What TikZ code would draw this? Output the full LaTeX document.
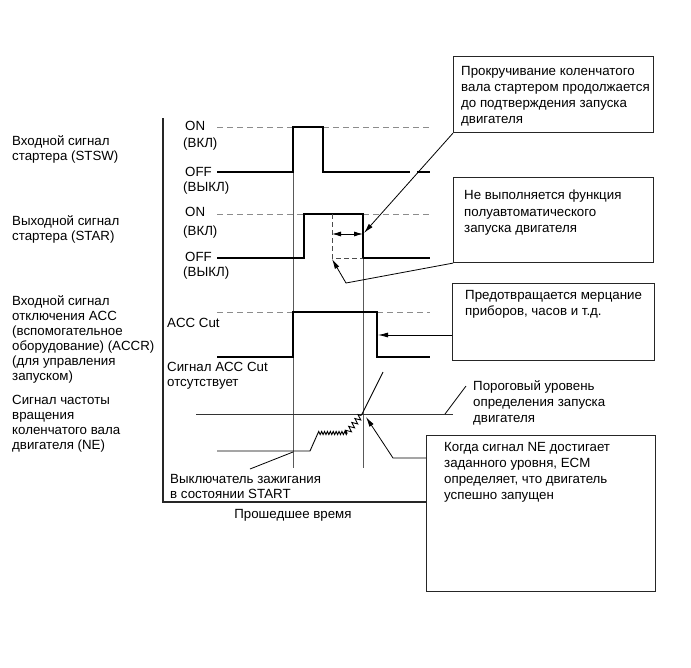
\documentclass[tikz,border=0pt]{standalone}
\usepackage{fontspec}
\setmainfont{Liberation Sans}
\usetikzlibrary{arrows.meta,decorations.pathmorphing}
\begin{document}
\begin{tikzpicture}[x=1pt,y=-1pt,
  sig/.style={line width=1.8pt, black},
  lvl/.style={line width=0.9pt, black!45, dash pattern=on 6pt off 4pt},
  aux/.style={line width=0.8pt, black!70, dash pattern=on 5pt off 3pt},
  vthin/.style={line width=0.6pt, black!65},
  axisln/.style={line width=1.2pt, black!85},
  lead/.style={line width=0.8pt, black},
  tip/.style={-{Latex[length=10pt,width=5pt]}},
  lbl/.style={inner sep=0pt, anchor=west, font=\fontsize{13.3}{15}\selectfont},
  mlbl/.style={inner sep=0pt, anchor=north west, align=left, font=\fontsize{13.3}{15}\selectfont},
  blbl/.style={inner sep=0pt, anchor=north west, align=left, font=\fontsize{13.3}{16.2}\selectfont},
  callout/.style={draw=black!85, line width=1.1pt, inner sep=0pt, anchor=north west},
]
\useasboundingbox (0,0) rectangle (691,667);

% ---- left labels
\node[mlbl] (lstsw) at (12,135) {Входной сигнал\\стартера (STSW)};
\node[mlbl] (lstar) at (12,215) {Выходной сигнал\\стартера (STAR)};
\node[mlbl] (laccr) at (12,295) {Входной сигнал\\отключения ACC\\(вспомогательное\\оборудование) (ACCR)\\(для управления\\запуском)};
\node[mlbl] (lne) at (12,395) {Сигнал частоты\\вращения\\коленчатого вала\\двигателя (NE)};

% ---- axes
\coordinate (axtop) at (163,118);
\coordinate (axcorner) at (163,502);

% ---- callout boxes
\node[callout, minimum width=200pt, minimum height=76pt] (b1) at (453,56) {};
\node[blbl] (t1) at (461,66) {Прокручивание коленчатого\\вала стартером продолжается\\до подтверждения запуска\\двигателя};
\node[callout, minimum width=200pt, minimum height=85pt] (b2) at (453,177) {};
\node[blbl] (t2) at (464,190) {Не выполняется функция\\полуавтоматического\\запуска двигателя};
\node[callout, minimum width=202pt, minimum height=77pt] (b3) at (452,283) {};
\node[blbl] (t3) at (465,290) {Предотвращается мерцание\\приборов, часов и т.д.};
\node[callout, minimum width=229pt, minimum height=156pt] (b4) at (426,435) {};
\node[blbl] (t4) at (444,442) {Когда сигнал NE достигает\\заданного уровня, ECM\\определяет, что двигатель\\успешно запущен};

\draw[axisln] (axtop) -- (axcorner) -- (b4.west |- axcorner);

% ---- signal labels
\node[lbl] (on1) at (185,126) {ON};
\node[lbl] (vkl1) at (183,144) {(ВКЛ)};
\node[lbl] (off1) at (185,172) {OFF};
\node[lbl] (vykl1) at (183,188) {(ВЫКЛ)};
\node[lbl] (on2) at (185,212) {ON};
\node[lbl] (vkl2) at (183,232) {(ВКЛ)};
\node[lbl] (off2) at (185,257) {OFF};
\node[lbl] (vykl2) at (183,273) {(ВЫКЛ)};
\node[lbl] (acc) at (167,323) {ACC Cut};
\node[mlbl] (noacc) at (167,362) {Сигнал ACC Cut\\отсутствует};
\node[mlbl] (ign) at (170,474) {Выключатель зажигания\\в состоянии START};
\node[inner sep=0pt, font=\fontsize{13.3}{15}\selectfont] (elapsed) at (293,515) {Прошедшее время};
\node[blbl] (thr) at (473,380) {Пороговый уровень\\определения запуска\\двигателя};

% ---- time markers
\coordinate (m1) at (293,172);
\coordinate (m1b) at (293,468);
\coordinate (m2) at (363,258);
\coordinate (m2b) at (363,468);
\draw[vthin] (m1) -- (m1b);
\draw[vthin] (m2) -- (m2b);

% ---- STSW
\draw[lvl] (217,127) -- (293,127);
\draw[lvl] (323,127) -- (430,127);
\draw[sig] (217,172) -- (293,172) -- (293,127) -- (323,127) -- (323,172) -- (410,172);
\draw[sig] (417,172) -- (430,172);

% ---- STAR
\draw[lvl] (217,214) -- (304,214);
\draw[lvl] (363,214) -- (430,214);
\draw[sig] (217,258) -- (304,258) -- (304,214) -- (363,214) -- (363,258) -- (430,258);
\coordinate (d1) at (332,214);
\coordinate (d2) at (332,258);
\coordinate (d3) at (363,258);
\draw[aux] (d1) -- (d2) -- (d3);
\coordinate (da) at (332,234);
\coordinate (db) at (363,234);
\draw[lead, {Latex[length=9pt,width=5pt]}-{Latex[length=9pt,width=5pt]}] (da) -- (db);

% ---- ACCR
\draw[lvl] (217,312) -- (293,312);
\draw[lvl] (377,312) -- (430,312);
\draw[sig] (217,357) -- (293,357) -- (293,312) -- (377,312) -- (377,357) -- (430,357);

% ---- NE
\coordinate (th1) at (196,414);
\coordinate (th2) at (453,414);
\draw[line width=0.9pt, black!80] (th1) -- (th2);
\draw[line width=0.9pt] (217,451) -- (310,451) -- (318,433)
  decorate[decoration={zigzag,segment length=2.9pt,amplitude=1.6pt}] {-- (347,433)}
  decorate[decoration={zigzag,segment length=5pt,amplitude=2.8pt}] {-- (362,414)}
  -- (383,372);

% ---- leaders
\coordinate (ignp) at (293,452);
\coordinate (ignl) at (250,469);
\draw[lead] (ignl) -- (ignp);
\coordinate (thp) at (445,414);
\coordinate (thl) at (466,386);
\draw[lead] (thp) -- (thl);
\coordinate (p1) at (364,233);
\draw[lead, tip] (b1.south west) -- (p1);
\coordinate (k2) at (346,283);
\coordinate (p2) at (332,259);
\draw[lead, tip] (b2.south west) -- (k2) -- (p2);
\coordinate (p3) at (378,335);
\draw[lead, tip] (b3.west |- p3) -- (p3);
\coordinate (k4) at (393,458);
\coordinate (p4) at (366,417);
\draw[lead, tip] (b4.west |- k4) -- (k4) -- (p4);
\end{tikzpicture}
\end{document}
